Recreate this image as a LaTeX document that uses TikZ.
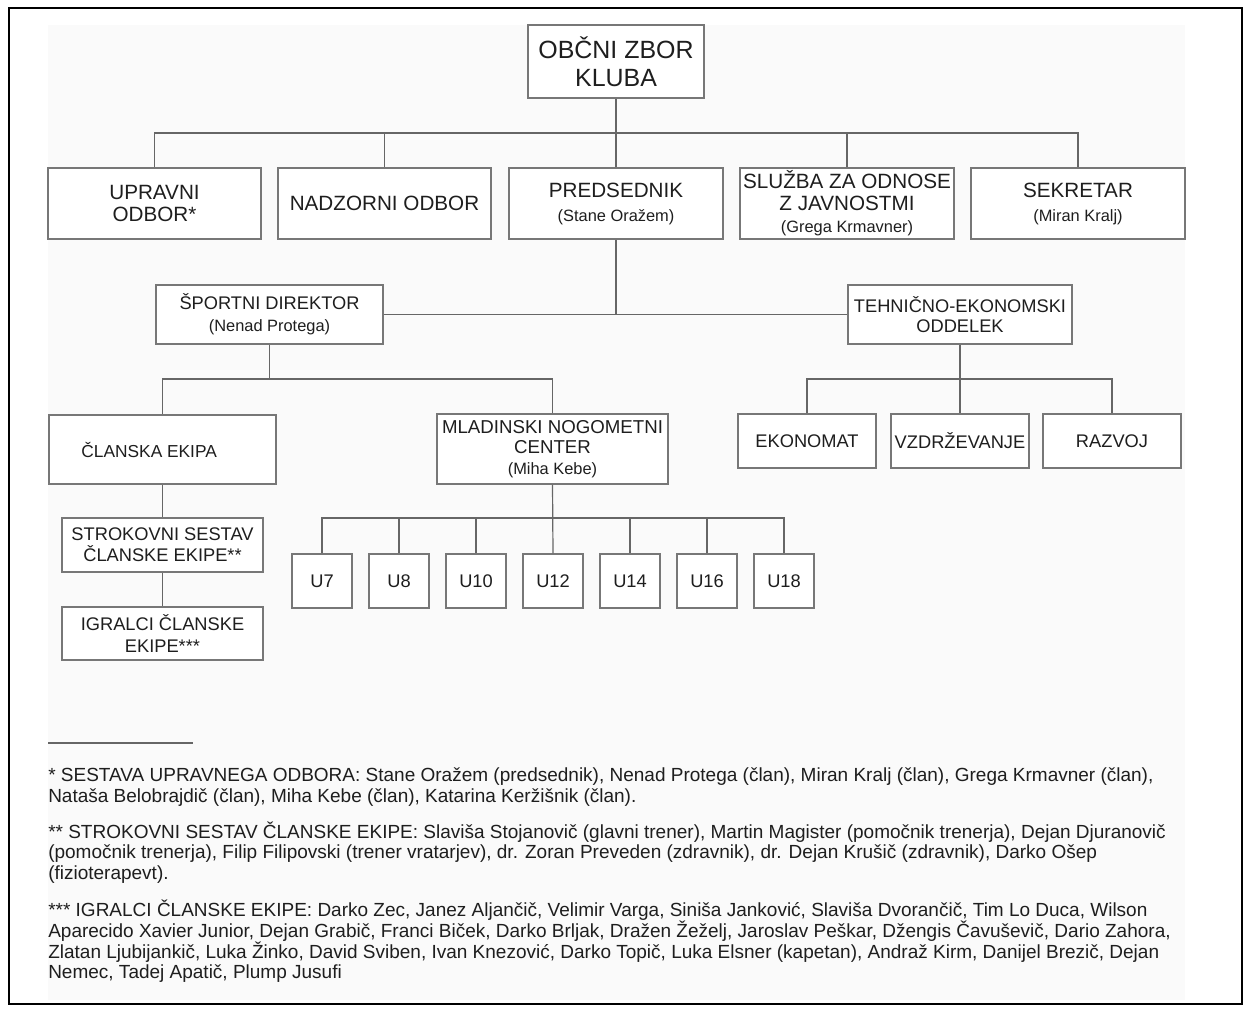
\documentclass[tikz,border=0pt]{standalone}
\usepackage{fontspec}
\setmainfont{Liberation Sans}
\definecolor{txt}{HTML}{1E1E1E}
\definecolor{boxc}{HTML}{777777}
\definecolor{linec}{HTML}{666666}
\definecolor{bgc}{HTML}{FAFAFA}
\begin{document}
\begin{tikzpicture}[x=0.75pt,y=-0.75pt,
  bx/.style 2 args={draw=boxc, line width=0.9pt, fill=white, minimum width=#1*0.75pt, minimum height=#2*0.75pt, inner sep=0pt, align=center, text=txt},
  fbig/.style={font=\fontsize{18.7}{21}\selectfont},
  fmain/.style={font=\fontsize{15.5}{17}\selectfont},
  flow/.style={font=\fontsize{13.7}{15.3}\selectfont},
  conn/.style={draw=linec, line width=0.9pt},
  fn/.style={anchor=base west, inner sep=0pt, text=txt, font=\fontsize{14.25}{15}\selectfont}
]
\newcommand{\sub}[1]{{\fontsize{12.3}{13}\selectfont #1}}
\useasboundingbox (0,0) rectangle (1248,1008);
\fill[white] (0,0) rectangle (1248,1008);
\fill[bgc] (48,25) rectangle (1185,1000);
\draw[black, line width=1.2pt] (9,8) rectangle (1242,1004);

% top level
\node[bx={176}{73}, fbig] (top) at (616,61.5) {OBČNI ZBOR\\KLUBA};
\node[bx={213}{71}, fmain] (upr) at (154.5,203.5) {UPRAVNI\\ODBOR*};
\node[bx={213}{71}, fmain] (nad) at (384.5,203.5) {NADZORNI ODBOR};
\node[bx={214}{71}, fmain] (pred) at (616,203.5) {PREDSEDNIK\\[1pt]\sub{(Stane Oražem)}};
\node[bx={214}{71}, fmain, font=\fontsize{15.5}{16.5}\selectfont] (slu) at (847,203.5) {SLUŽBA ZA ODNOSE\\Z JAVNOSTMI\\\sub{(Grega Krmavner)}};
\node[bx={214}{71}, fmain] (sek) at (1078,203.5) {SEKRETAR\\[1pt]\sub{(Miran Kralj)}};

% second level
\node[bx={227}{59}, flow] (sd) at (269.5,314.5) {ŠPORTNI DIREKTOR\\[1pt]\sub{(Nenad Protega)}};
\node[bx={224}{59}, flow] (te) at (960,314.5) {TEHNIČNO-EKONOMSKI\\ODDELEK};

% third level
\node[bx={227}{69}, flow, font=\fontsize{13}{15}\selectfont] (cl) at (162.5,449.5) {\hspace*{-20pt}ČLANSKA EKIPA};
\node[bx={231}{70}, flow, font=\fontsize{14}{15.5}\selectfont] (mnc) at (552.5,449) {MLADINSKI NOGOMETNI\\CENTER\\\sub{(Miha Kebe)}};
\node[bx={138}{54}, flow] (ekon) at (807,441) {EKONOMAT};
\node[bx={138}{54}, flow] (vzd) at (960,441) {VZDRŽEVANJE};
\node[bx={138}{54}, flow] (raz) at (1112,441) {RAZVOJ};

% members team
\node[bx={201}{54}, flow, font=\fontsize{13.7}{15.8}\selectfont] (str) at (162.5,545) {STROKOVNI SESTAV\\ČLANSKE EKIPE**};
\node[bx={201}{53}, flow, font=\fontsize{13.7}{15.8}\selectfont] (igr) at (162.5,633.5) {IGRALCI ČLANSKE\\EKIPE***};

% youth
\node[bx={60}{54}, flow] (u7) at (322,581) {U7};
\node[bx={60}{54}, flow] (u8) at (399,581) {U8};
\node[bx={60}{54}, flow] (u10) at (476,581) {U10};
\node[bx={60}{54}, flow] (u12) at (553,581) {U12};
\node[bx={60}{54}, flow] (u14) at (630,581) {U14};
\node[bx={60}{54}, flow] (u16) at (707,581) {U16};
\node[bx={60}{54}, flow] (u18) at (784,581) {U18};

% connectors: level 1
\coordinate (b1) at (616,133);
\draw[conn] (top.south) -- (pred.north);
\draw[conn] (upr.north) |- (b1) -| (sek.north);
\draw[conn] (nad.north) -- (nad.north |- b1);
\draw[conn] (slu.north) -- (slu.north |- b1);

% level 2
\draw[conn] (pred.south) -- (pred.south |- sd.east);
\draw[conn] (sd.east) -- (te.west);

% sport director
\coordinate (b2) at (269.5,379);
\draw[conn] (sd.south) -- (b2);
\draw[conn] (cl.north) |- (b2) -| (mnc.north);

% tech-econ
\coordinate (b3) at (960,379);
\draw[conn] (te.south) -- (vzd.north);
\draw[conn] (ekon.north) |- (b3) -| (raz.north);

% team
\draw[conn] (cl.south) -- (str.north);
\draw[conn] (str.south) -- (igr.north);

% youth
\coordinate (b4) at (553,518);
\draw[conn] (mnc.south) -- (u12.north);
\draw[conn] (u7.north) |- (b4) -| (u18.north);
\draw[conn] (u8.north) -- (u8.north |- b4);
\draw[conn] (u10.north) -- (u10.north |- b4);
\draw[conn] (u14.north) -- (u14.north |- b4);
\draw[conn] (u16.north) -- (u16.north |- b4);

% footnotes
\coordinate (sepA) at (48,743);
\coordinate (sepB) at (193,743);
\draw[linec, line width=0.8pt] (sepA) -- (sepB);
\node[fn] (f1) at (48,781.5) {* SESTAVA UPRAVNEGA ODBORA: Stane Oražem (predsednik), Nenad Protega (član), Miran Kralj (član), Grega Krmavner (član),};
\node[fn] (f2) at (48,802.5) {Nataša Belobrajdič (član), Miha Kebe (član), Katarina Keržišnik (član).};
\node[fn] (f3) at (48,838.5) {** STROKOVNI SESTAV ČLANSKE EKIPE: Slaviša Stojanovič (glavni trener), Martin Magister (pomočnik trenerja), Dejan Djuranovič};
\node[fn] (f4) at (48,858.5) {(pomočnik trenerja), Filip Filipovski (trener vratarjev), dr. Zoran Preveden (zdravnik), dr. Dejan Krušič (zdravnik), Darko Ošep};
\node[fn] (f5) at (48,879.5) {(fizioterapevt).};
\node[fn] (f6) at (48,916.5) {*** IGRALCI ČLANSKE EKIPE: Darko Zec, Janez Aljančič, Velimir Varga, Siniša Janković, Slaviša Dvorančič, Tim Lo Duca, Wilson};
\node[fn] (f7) at (48,937.5) {Aparecido Xavier Junior, Dejan Grabič, Franci Biček, Darko Brljak, Dražen Žeželj, Jaroslav Peškar, Džengis Čavuševič, Dario Zahora,};
\node[fn] (f8) at (48,958.5) {Zlatan Ljubijankič, Luka Žinko, David Sviben, Ivan Knezović, Darko Topič, Luka Elsner (kapetan), Andraž Kirm, Danijel Brezič, Dejan};
\node[fn] (f9) at (48,978.5) {Nemec, Tadej Apatič, Plump Jusufi};
\end{tikzpicture}
\end{document}
